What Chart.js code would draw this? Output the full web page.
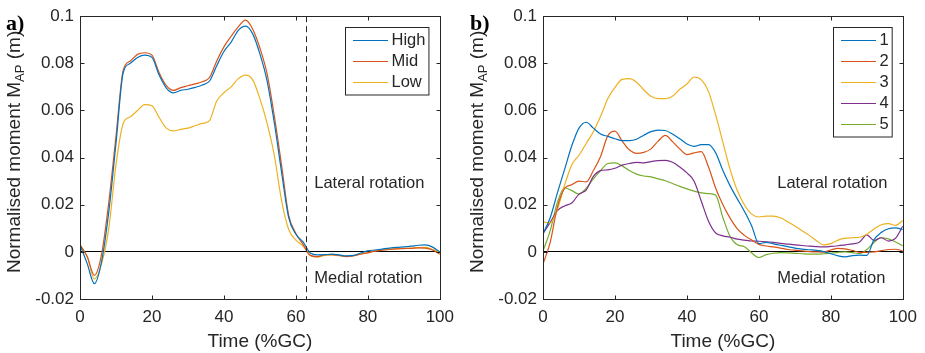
<!DOCTYPE html>
<html>
<head>
<meta charset="utf-8">
<script src="https://cdn.jsdelivr.net/npm/chart.js@4.4.0/dist/chart.umd.min.js"></script>
<style>
html,body{margin:0;padding:0;background:#fff;width:925px;height:353px;overflow:hidden}
canvas{position:absolute;top:0}
#ca{left:0}
#cb{left:462px}
</style>
</head>
<body>
<canvas id="ca" width="462" height="353"></canvas>
<canvas id="cb" width="463" height="353"></canvas>
<script>
// ---------- data ----------
const timeGC = [0,2,4,6,8,10,12,14,16,18,20,22,24,26,28,30,32,34,36,38,40,42,44,46,48,50,52,54,56,58,60,62,64,66,68,70,72,74,76,78,80,82,84,86,88,90,92,94,96,98,100];

const xTickLabels = ['0','20','40','60','80','100'];
const yTickLabels = ['-0.02','0','0.02','0.04','0.06','0.08','0.1'];
const xTitle = 'Time (%GC)';
const yTitleMain = 'Normalised moment M';
const yTitleSub = 'AP';
const yTitleEnd = ' (m)';
const lateralText = 'Lateral rotation';
const medialText = 'Medial rotation';

// panel a
const namesA = ['High','Mid','Low'];
const high = [0.003,-0.005,-0.0135,-0.004,0.017,0.046,0.076,0.080,0.0825,0.0835,
  0.0825,0.075,0.0695,0.0675,0.0685,0.069,0.0698,0.0708,0.0725,0.079,
  0.085,0.089,0.094,0.0958,0.0925,0.084,0.0725,0.0548,0.034,0.0145,
  0.0075,0.0042,-0.0005,-0.0013,-0.0012,-0.001,-0.0013,-0.0017,-0.0015,-0.0005,
  0.0004,0.0008,0.0012,0.0016,0.0019,0.0021,0.0024,0.0028,0.003,0.002,0.0];
const mid = [0.003,-0.002,-0.010,-0.001,0.021,0.049,0.077,0.081,0.0838,0.0845,
  0.0835,0.076,0.0705,0.0685,0.0697,0.0705,0.0713,0.0722,0.074,0.081,
  0.087,0.0915,0.0955,0.0983,0.0945,0.0865,0.0755,0.0577,0.037,0.0155,
  0.0078,0.0032,-0.0015,-0.002,-0.0012,-0.0012,-0.0015,-0.002,-0.0017,-0.001,
  -0.0004,0.0003,0.0007,0.001,0.0013,0.0014,0.0015,0.0017,0.0016,0.0008,-0.001];
const low = [0.003,-0.002,-0.0115,-0.005,0.010,0.037,0.0545,0.0573,0.060,0.0625,
  0.062,0.057,0.0525,0.0513,0.052,0.0525,0.0535,0.0545,0.0557,0.064,
  0.0675,0.070,0.0735,0.075,0.073,0.065,0.0545,0.041,0.022,0.0095,
  0.005,0.0025,-0.0015,-0.0022,-0.0015,-0.0013,-0.0016,-0.0019,-0.0016,-0.0008,
  -0.0003,0.0004,0.0008,0.0012,0.0014,0.0015,0.0016,0.0018,0.0019,0.001,-0.0002];
const stanceEnd = 62.7;

// panel b
const namesB = ['1','2','3','4','5'];
const s1 = [0.0077,0.0145,0.025,0.035,0.045,0.0525,0.055,0.0525,0.050,0.049,
  0.048,0.0472,0.0472,0.0478,0.0495,0.051,0.0517,0.0515,0.050,0.048,
  0.0458,0.0448,0.0455,0.0455,0.042,0.0345,0.028,0.0225,0.0171,0.011,
  0.0035,0.004,0.0034,0.0028,0.0022,0.0016,0.0012,0.0009,0.0006,0.0001,
  -0.0008,-0.0017,-0.0021,-0.0016,-0.0014,-0.0015,0.0052,0.0082,0.0098,0.0102,0.0095];
const s2 = [-0.0052,0.004,0.019,0.0269,0.0285,0.030,0.0297,0.0345,0.0405,0.0492,
  0.0512,0.047,0.0433,0.0418,0.0422,0.0437,0.047,0.0494,0.0468,0.0437,
  0.0413,0.042,0.0425,0.036,0.027,0.020,0.0143,0.0098,0.007,0.005,
  0.0032,0.0025,0.0021,0.0016,0.001,0.0007,0.0004,0.0001,0.0,-0.0001,
  0.0008,0.0015,0.0013,0.0006,-0.0002,-0.0002,0.0,0.0005,0.001,0.0011,0.0004];
const s3 = [0.0127,0.0123,0.018,0.0283,0.037,0.041,0.046,0.051,0.0575,0.065,
  0.0698,0.0732,0.0735,0.072,0.0688,0.066,0.065,0.065,0.066,0.069,
  0.0712,0.0742,0.073,0.068,0.058,0.0465,0.035,0.026,0.0199,0.016,
  0.0148,0.0152,0.0152,0.0145,0.0128,0.011,0.009,0.007,0.0047,0.003,
  0.0035,0.005,0.0058,0.006,0.0062,0.0075,0.0097,0.0115,0.012,0.0112,0.0133];
const s4 = [0.0077,0.0125,0.0175,0.0195,0.0207,0.0245,0.0262,0.032,0.0345,0.0348,
  0.0355,0.0368,0.0375,0.038,0.0378,0.0383,0.0387,0.0388,0.038,0.036,
  0.0335,0.030,0.0215,0.013,0.008,0.0068,0.0062,0.0054,0.005,0.0046,
  0.0045,0.0043,0.004,0.0036,0.0033,0.003,0.0027,0.0024,0.0022,0.0021,
  0.0023,0.0026,0.003,0.0034,0.0042,0.0072,0.0048,0.006,0.0046,0.0058,0.0109];
const s5 = [0.0004,0.009,0.021,0.0272,0.026,0.0245,0.027,0.031,0.0345,0.0375,
  0.0378,0.0365,0.0345,0.033,0.0322,0.0318,0.031,0.0302,0.029,0.0278,
  0.0267,0.0258,0.025,0.0247,0.024,0.0145,0.0065,0.003,0.0022,-0.0005,
  -0.0024,-0.0012,-0.0006,-0.0003,-0.0004,-0.0006,-0.0008,-0.001,-0.001,-0.0008,
  -0.0005,-0.0002,0.0,-0.0003,-0.0007,0.001,0.004,0.006,0.0055,0.0042,0.0025];

const colorsA = ['#0072BD','#D95319','#EDB120'];
const colorsB = ['#0072BD','#D95319','#EDB120','#7E2F8E','#77AC30'];

// ---------- styling ----------
const AXIS = '#262626';
const SANS = "'Liberation Sans', Arial, Helvetica, sans-serif";
const SERIF = "'Liberation Serif', 'Times New Roman', serif";

function matlabPlugin(cfg) {
  return {
    id: 'matlab_' + cfg.tag,
    afterDraw(chart) {
      const ctx = chart.ctx, a = chart.chartArea, xs = chart.scales.x, ys = chart.scales.y;
      ctx.save();
      // dashed vertical line
      if (cfg.dashX != null) {
        const px = Math.round(xs.getPixelForValue(cfg.dashX)) + 0.5;
        ctx.strokeStyle = AXIS; ctx.lineWidth = 1; ctx.setLineDash([6, 4]);
        ctx.beginPath(); ctx.moveTo(px, a.top); ctx.lineTo(px, a.bottom); ctx.stroke();
        ctx.setLineDash([]);
      }
      // box
      const L = Math.round(a.left) + 0.5, R = Math.round(a.right) + 0.5;
      const T = Math.round(a.top) + 0.5, B = Math.round(a.bottom) + 0.5;
      ctx.strokeStyle = AXIS; ctx.lineWidth = 1;
      ctx.strokeRect(L, T, R - L, B - T);
      // inside ticks
      const tl = 4;
      ctx.beginPath();
      xs.ticks.forEach(t => {
        const p = Math.round(xs.getPixelForValue(t.value)) + 0.5;
        ctx.moveTo(p, B); ctx.lineTo(p, B - tl);
        ctx.moveTo(p, T); ctx.lineTo(p, T + tl);
      });
      ys.ticks.forEach(t => {
        const p = Math.round(ys.getPixelForValue(t.value)) + 0.5;
        ctx.moveTo(L, p); ctx.lineTo(L + tl, p);
        ctx.moveTo(R, p); ctx.lineTo(R - tl, p);
      });
      ctx.stroke();
      // annotations
      ctx.fillStyle = AXIS; ctx.textAlign = 'left'; ctx.textBaseline = 'alphabetic';
      ctx.font = `16.5px ${SANS}`;
      ctx.fillText(lateralText, xs.getPixelForValue(65.1), ys.getPixelForValue(0.0270));
      ctx.fillText(medialText, xs.getPixelForValue(65.1), ys.getPixelForValue(-0.0132));
      // legend
      const names = chart.data.datasets.map(d => d.label);
      const maxW = Math.max(...names.map(n => ctx.measureText(n).width));
      const bw = 7.5 + 35 + 3.5 + maxW + 3.5;
      const bh = names.length * 21 + 4.5;
      const bx = Math.round(a.right - 11 - bw) + 0.5, by = Math.round(a.top + 11) + 0.5;
      ctx.fillStyle = '#fff'; ctx.fillRect(bx, by, bw, bh);
      ctx.strokeStyle = AXIS; ctx.strokeRect(bx, by, bw, bh);
      ctx.textBaseline = 'middle';
      chart.data.datasets.forEach((d, i) => {
        const yy = by + 13 + i * 21;
        ctx.strokeStyle = d.borderColor; ctx.lineWidth = 1.2;
        ctx.beginPath(); ctx.moveTo(bx + 7.5, yy); ctx.lineTo(bx + 42.5, yy); ctx.stroke();
        ctx.fillStyle = AXIS; ctx.fillText(d.label, bx + 46, yy);
      });
      // y title with subscript
      ctx.save();
      ctx.translate(a.left - 60.5, a.bottom - 26);
      ctx.rotate(-Math.PI / 2);
      ctx.fillStyle = AXIS; ctx.textAlign = 'left'; ctx.textBaseline = 'alphabetic';
      ctx.font = `19px ${SANS}`;
      ctx.fillText(yTitleMain, 0, 0);
      let w = ctx.measureText(yTitleMain).width;
      ctx.font = `13px ${SANS}`;
      ctx.fillText(yTitleSub, w, 4);
      w += ctx.measureText(yTitleSub).width;
      ctx.font = `19px ${SANS}`;
      ctx.fillText(yTitleEnd, w, 0);
      ctx.restore();
      // panel label
      ctx.fillStyle = '#000'; ctx.textAlign = 'left'; ctx.textBaseline = 'alphabetic';
      ctx.font = `bold 22px ${SERIF}`;
      ctx.fillText(cfg.panel, a.left - cfg.panelOffset, 30);
      ctx.restore();
    }
  };
}

function makeChart(id, names, series, colors, cfg) {
  const datasets = series.map((vals, i) => ({
    label: names[i],
    data: timeGC.map((t, j) => ({x: t, y: vals[j]})),
    borderColor: colors[i],
    borderWidth: 1.2,
    pointRadius: 0,
    fill: false,
    cubicInterpolationMode: 'monotone'
  }));
  return new Chart(document.getElementById(id), {
    type: 'line',
    data: {datasets},
    options: {
      responsive: false,
      animation: false,
      devicePixelRatio: 1,
      layout: {padding: {top: 12, right: cfg.padRight, left: 0, bottom: 0}},
      plugins: {legend: {display: false}, tooltip: {enabled: false}},
      scales: {
        x: {
          type: 'linear', min: 0, max: 100,
          ticks: {stepSize: 20, padding: 8, color: AXIS, maxRotation: 0, autoSkip: false,
                  font: {size: 17, family: SANS},
                  callback: (v, i) => xTickLabels[i]},
          grid: {display: false, drawTicks: false},
          border: {display: false},
          title: {display: true, text: xTitle, color: AXIS, padding: 0, font: {size: 19, family: SANS}},
          afterFit: s => { s.height = 54; }
        },
        y: {
          min: -0.02, max: 0.1,
          ticks: {stepSize: 0.02, padding: 6, color: AXIS, autoSkip: false,
                  font: {size: 17, family: SANS},
                  callback: (v, i) => yTickLabels[i]},
          grid: {drawTicks: false, lineWidth: 1,
                 color: c => (c.tick && Math.abs(c.tick.value) < 1e-9) ? '#000' : 'rgba(0,0,0,0)'},
          border: {display: false},
          afterFit: s => { s.width = cfg.yWidth; }
        }
      }
    },
    plugins: [matlabPlugin(cfg)]
  });
}

makeChart('ca', namesA, [high, mid, low], colorsA,
  {tag: 'a', panel: 'a)', panelOffset: 74, padRight: 17.7, yWidth: 80, dashX: stanceEnd});
makeChart('cb', namesB, [s1, s2, s3, s4, s5], colorsB,
  {tag: 'b', panel: 'b)', panelOffset: 73, padRight: 18.3, yWidth: 81, dashX: null});
</script>
</body>
</html>
